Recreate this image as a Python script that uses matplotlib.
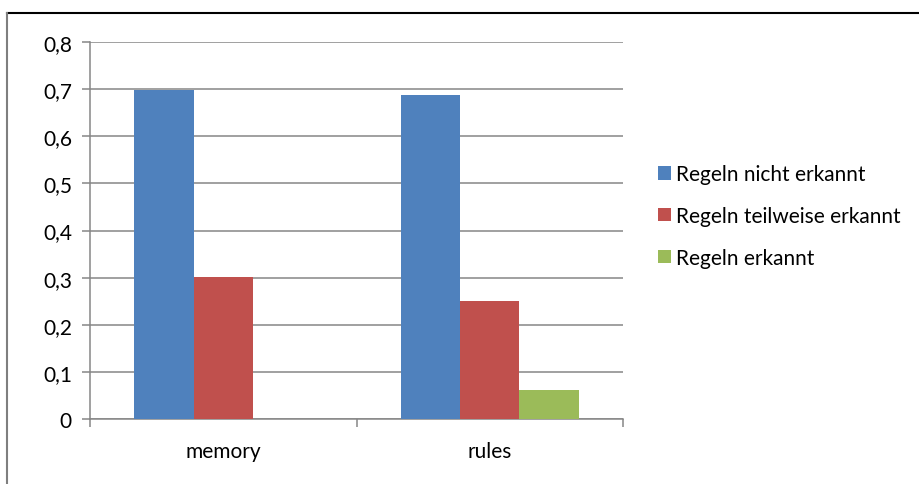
import matplotlib
matplotlib.use("Agg")
import matplotlib.pyplot as plt
from matplotlib.patches import Patch
from matplotlib.lines import Line2D
import numpy as np

plt.rcParams['font.family'] = ['Lato', 'DejaVu Sans']

categories = ["memory", "rules"]
series_names = ["Regeln nicht erkannt", "Regeln teilweise erkannt", "Regeln erkannt"]
values_nicht = [0.6977, 0.6875]
values_teilweise = [0.3023, 0.25]
values_erkannt = [0.0, 0.0625]
colors = ["#4F81BD", "#C0504D", "#9BBB59"]
yticks = [0, 0.1, 0.2, 0.3, 0.4, 0.5, 0.6, 0.7, 0.8]
ytick_labels = ["0", "0,1", "0,2", "0,3", "0,4", "0,5", "0,6", "0,7", "0,8"]

FS = 15

fig = plt.figure(figsize=(9.2, 4.85), dpi=100)
ax = fig.add_axes([90/920, 65/485, (623-90)/920, (420-43)/485])

x = np.arange(len(categories))
w = 0.223
for i, (vals, c) in enumerate(zip([values_nicht, values_teilweise, values_erkannt], colors)):
    ax.bar(x + (i - 1) * w, vals, width=w, color=c, zorder=3, linewidth=0)

ax.set_xlim(-0.5, len(categories) - 0.5)
ax.set_ylim(0, 0.8)
ax.set_yticks(yticks)
ax.set_yticklabels(ytick_labels, fontsize=FS)
ax.yaxis.grid(True, color="#868686", linewidth=1.1, zorder=0)
ax.set_xticks(x)
ax.set_xticklabels(categories, fontsize=FS)
ax.tick_params(axis="x", length=0, pad=16)
ax.set_xticks([-0.5, 0.5, 1.5], minor=True)
ax.tick_params(axis="x", which="minor", length=6, color="#868686", width=1.1)
ax.tick_params(axis="y", length=6, color="#868686", width=1.1, pad=7)
for s in ["top", "right"]:
    ax.spines[s].set_visible(False)
for s in ["left", "bottom"]:
    ax.spines[s].set_color("#868686")
    ax.spines[s].set_linewidth(1.1)

handles = [Patch(facecolor=c, edgecolor="none") for c in colors]
fig.legend(handles, series_names, loc="upper left", bbox_to_anchor=(650/920, 1 - 157/485),
           frameon=False, fontsize=FS, handlelength=0.6, handleheight=0.6,
           handletextpad=0.25, labelspacing=1.05, borderaxespad=0)

# outer chart frame
fig.add_artist(Line2D([7/920, 919/920], [1 - 14/485, 1 - 14/485], color="black", linewidth=1.5, transform=fig.transFigure))
fig.add_artist(Line2D([7/920, 7/920], [0, 1 - 14/485], color="#7f7f7f", linewidth=1.5, transform=fig.transFigure))

fig.savefig("out.png", dpi=100)
